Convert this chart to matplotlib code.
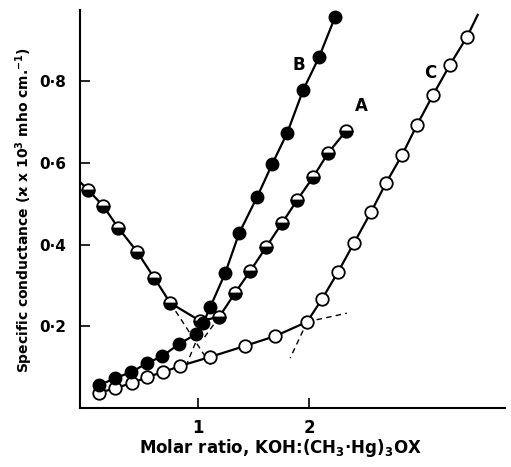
import matplotlib
matplotlib.use("Agg")
import matplotlib.pyplot as plt

# curve A (half-filled circles)
a_x = [0.006, 0.144, 0.279, 0.450, 0.604, 0.748, 1.018, 1.189, 1.333, 1.468, 1.613, 1.757, 1.892, 2.036, 2.171, 2.333]
a_y = [0.534, 0.494, 0.441, 0.382, 0.318, 0.257, 0.213, 0.223, 0.282, 0.335, 0.394, 0.453, 0.509, 0.565, 0.624, 0.678]
a_start = (-0.065, 0.553)

# curve B (filled circles)
b_x = [0.108, 0.252, 0.396, 0.541, 0.676, 0.829, 0.982, 1.045, 1.108, 1.243, 1.369, 1.532, 1.667, 1.802, 1.946, 2.090, 2.234]
b_y = [0.056, 0.073, 0.088, 0.110, 0.127, 0.157, 0.181, 0.208, 0.247, 0.330, 0.428, 0.517, 0.597, 0.673, 0.778, 0.859, 0.957]

# curve C (open circles)
c_x = [0.108, 0.252, 0.405, 0.541, 0.685, 0.838, 1.108, 1.423, 1.694, 1.982, 2.117, 2.261, 2.405, 2.559, 2.694, 2.838, 2.973, 3.117, 3.270, 3.423]
c_y = [0.037, 0.049, 0.061, 0.076, 0.088, 0.103, 0.125, 0.152, 0.176, 0.211, 0.267, 0.333, 0.404, 0.480, 0.551, 0.619, 0.693, 0.766, 0.840, 0.908]
c_end = (3.52, 0.962)

# dashed extrapolations (start, end)
dashed = [
    ((0.748, 0.257), (1.126, 0.100)),
    ((1.189, 0.223), (1.045, 0.169)),
    ((1.108, 0.247), (0.900, 0.110)),
    ((1.982, 0.211), (1.829, 0.122)),
    ((1.982, 0.211), (2.340, 0.232)),
]

labels = {"A": (2.47, 0.739), "B": (1.91, 0.840), "C": (3.09, 0.820)}
yticks = [0.2, 0.4, 0.6, 0.8]
ytick_labels = ["0·2", "0·4", "0·6", "0·8"]
xticks = [1, 2]
xtick_labels = ["1", "2"]

plt.rcParams['font.family'] = ['DejaVu Sans']
plt.rcParams['font.weight'] = 'bold'

fig = plt.figure(figsize=(5.11, 4.67), dpi=100)
ax = fig.add_axes([0.1566, 0.1263, 0.8314, 0.8523])

ms = 9
for (x0, y0), (x1, y1) in dashed:
    ax.plot([x0, x1], [y0, y1], color='black', lw=1.0, ls=(0, (4, 3)), zorder=1)

ax.plot([a_start[0]] + a_x, [a_start[1]] + a_y, color='black', lw=1.6, zorder=2)
ax.plot(a_x, a_y, ls='none', marker='o', ms=ms, mec='black', mew=1.3,
        fillstyle='bottom', mfc='black', mfcalt='white', zorder=3)

ax.plot(c_x + [c_end[0]], c_y + [c_end[1]], color='black', lw=1.6, zorder=2)
ax.plot(c_x, c_y, ls='none', marker='o', ms=ms, mec='black', mew=1.3, mfc='white', zorder=3)

ax.plot(b_x, b_y, color='black', lw=1.6, marker='o', ms=ms, mec='black', mfc='black', zorder=4)

for name, (lx, ly) in labels.items():
    ax.text(lx, ly, name, fontsize=12, fontweight='bold', ha='center', va='center')

ax.set_xlim(-0.066, 3.765)
ax.set_ylim(0, 0.974)
ax.spines['top'].set_visible(False)
ax.spines['right'].set_visible(False)
ax.spines['left'].set_linewidth(1.5)
ax.spines['bottom'].set_linewidth(1.5)

ax.set_yticks(yticks)
ax.set_yticklabels(ytick_labels, fontsize=11, fontweight='bold')
ax.set_xticks(xticks)
ax.set_xticklabels(xtick_labels, fontsize=12, fontweight='bold')
ax.tick_params(direction='in', length=7, width=1.2)
ax.tick_params(axis='y', pad=10)
ax.tick_params(axis='x', pad=8)

fig.text(0.048, 0.55, 'Specific conductance (ϰ x 10$^3$ mho cm.$^{-1}$)', fontsize=10,
         fontweight='bold', rotation=90, ha='center', va='center')
fig.text(0.548, 0.04, 'Molar ratio, KOH:(CH$_3$·Hg)$_3$OX', fontsize=12, fontweight='bold', ha='center', va='center')

fig.savefig('out.png', dpi=100)
